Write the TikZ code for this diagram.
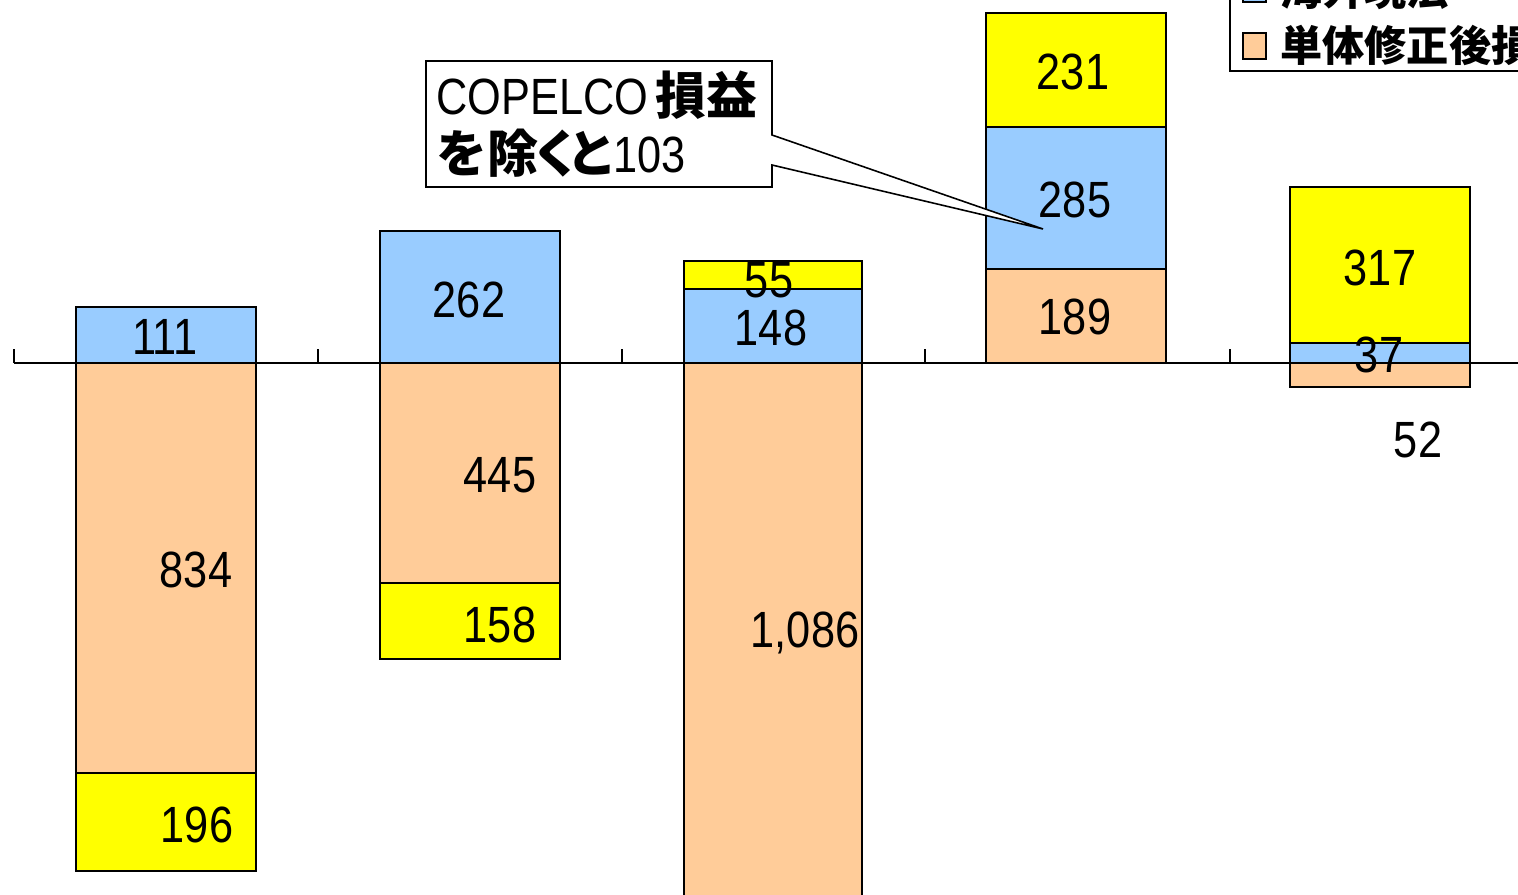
\documentclass[tikz,border=0pt]{standalone}
\usepackage{fontspec}
\setmainfont[FakeStretch=0.85]{Liberation Sans}
\newfontfamily\jp{Noto Sans CJK JP}
\usetikzlibrary{positioning}

\definecolor{barblue}{HTML}{99CCFF}
\definecolor{barorange}{HTML}{FFCC99}
\definecolor{baryellow}{HTML}{FFFF00}

\begin{document}
\begin{tikzpicture}[x=0.02cm, y=-0.02cm,
    bar/.style={draw=black, line width=1.1pt},
    blue/.style={bar, fill=barblue},
    orange/.style={bar, fill=barorange},
    yellow/.style={bar, fill=baryellow},
    lbl/.style={inner sep=0pt, font=\fontsize{29}{32}\selectfont},
    jlbl/.style={inner sep=0pt, font=\fontsize{24}{30}\selectfont\jp\bfseries}]

    \useasboundingbox (0,0) rectangle (1518,895);

    % bar 1
    \draw[blue] (76,307) rectangle (256,363);
    \draw[orange] (76,363) rectangle (256,773);
    \draw[yellow] (76,773) rectangle (256,871);
    % bar 2
    \draw[blue] (380,231) rectangle (560,363);
    \draw[orange] (380,363) rectangle (560,583);
    \draw[yellow] (380,583) rectangle (560,659);
    % bar 3
    \draw[yellow] (684,261) rectangle (862,289);
    \draw[blue] (684,289) rectangle (862,363);
    \draw[orange] (684,363) rectangle (862,910);
    % bar 4
    \draw[yellow] (986,13) rectangle (1166,127);
    \draw[blue] (986,127) rectangle (1166,269);
    \draw[orange] (986,269) rectangle (1166,363);
    % bar 5
    \draw[yellow] (1290,187) rectangle (1470,343);
    \draw[blue] (1290,343) rectangle (1470,363);
    \draw[orange] (1290,363) rectangle (1470,387);

    % axis
    \draw[line width=0.9pt] (14,363) -- (1530,363);
    \foreach \t in {14,318,622,925,1230}
        \draw[line width=0.9pt] (\t,363) -- (\t,349);

    % values
    \node[lbl] (v111) at (165,337) {111};
    \node[lbl] (v834) at (196,570) {834};
    \node[lbl] (v196) at (197,825) {196};
    \node[lbl] (v262) at (469,300) {262};
    \node[lbl] (v445) at (500,475) {445};
    \node[lbl] (v158) at (500,625) {158};
    \node[lbl] (v55) at (769,280) {55};
    \node[lbl] (v148) at (771,328) {148};
    \node[lbl] (v1086) at (805,633) {1,086};
    \node[lbl] (v231) at (1073,72) {231};
    \node[lbl] (v285) at (1075,200) {285};
    \node[lbl] (v189) at (1075,317) {189};
    \node[lbl] (v317) at (1380,268) {317};
    \node[lbl] (v37) at (1379,355) {37};
    \node[lbl] (v52) at (1418,440) {52};

    % callout
    \coordinate (tip) at (1043,229);
    \filldraw[fill=white, draw=black, line width=0.9pt]
        (426,61) -- (772,61) -- (772,135) -- (tip) -- (772,165)
        -- (772,187) -- (426,187) -- cycle;
    \node[lbl, anchor=base west] (cop1) at (436,115) {COPELCO\kern4pt{\jp\bfseries 損益}};
    \node[lbl, anchor=base west] (cop2) at (436,173)
        {{\jp\bfseries を除\kern-4pt く\kern-9pt と}\kern-2pt 103};

    % legend
    \draw[fill=white, line width=0.9pt] (1230,-20) rectangle (1540,71);
    \draw[fill=barblue, line width=0.9pt] (1243,-24) rectangle (1266,2);
    \node[jlbl, anchor=base west] (leg1) at (1280,6) {海外現法};
    \draw[fill=barorange, line width=0.9pt] (1243,33) rectangle (1266,59);
    \node[jlbl, anchor=base west] (leg2) at (1280,62) {単体修正後損益};
\end{tikzpicture}
\end{document}
